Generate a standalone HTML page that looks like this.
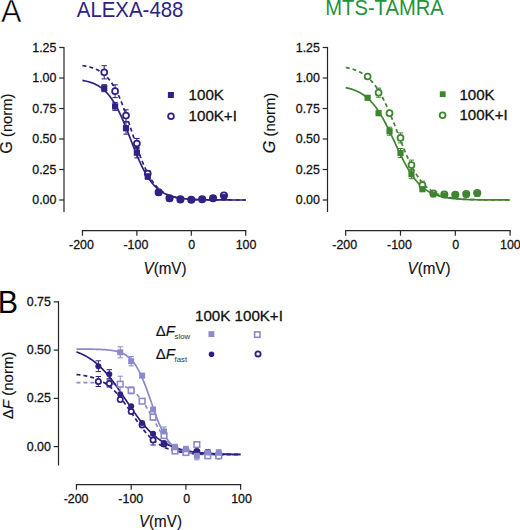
<!DOCTYPE html>
<html><head><meta charset="utf-8"><style>
html,body{margin:0;padding:0;background:#fff;width:520px;height:530px;overflow:hidden}
svg{display:block}
text{font-family:"Liberation Sans", sans-serif}
</style></head><body>
<svg width="520" height="530" viewBox="0 0 520 530">
<rect width="520" height="530" fill="#fff"/>
<text x="0.9" y="22" font-size="30.6" fill="#000" stroke="#fff" stroke-width="0.5">A</text>
<text transform="translate(-2.2,313.1) scale(0.97,1)" font-size="31.4" fill="#000">B</text>
<text transform="translate(76.80,16.80) scale(0.935,1)" font-size="21.83" fill="#2f2282">ALEXA-488</text>
<path d="M64.0,46.9V212" stroke="#262626" stroke-width="1.2" fill="none"/>
<path d="M59.2,200.00H64.0" stroke="#262626" stroke-width="1.2"/>
<text transform="translate(56.40,204.10) scale(0.935,1)" text-anchor="end" font-size="13.27" fill="#111" stroke="#111" stroke-width="0.3">0.00</text>
<path d="M59.2,169.50H64.0" stroke="#262626" stroke-width="1.2"/>
<text transform="translate(56.40,173.60) scale(0.935,1)" text-anchor="end" font-size="13.27" fill="#111" stroke="#111" stroke-width="0.3">0.25</text>
<path d="M59.2,139.00H64.0" stroke="#262626" stroke-width="1.2"/>
<text transform="translate(56.40,143.10) scale(0.935,1)" text-anchor="end" font-size="13.27" fill="#111" stroke="#111" stroke-width="0.3">0.50</text>
<path d="M59.2,108.50H64.0" stroke="#262626" stroke-width="1.2"/>
<text transform="translate(56.40,112.60) scale(0.935,1)" text-anchor="end" font-size="13.27" fill="#111" stroke="#111" stroke-width="0.3">0.75</text>
<path d="M59.2,78.00H64.0" stroke="#262626" stroke-width="1.2"/>
<text transform="translate(56.40,82.10) scale(0.935,1)" text-anchor="end" font-size="13.27" fill="#111" stroke="#111" stroke-width="0.3">1.00</text>
<path d="M59.2,47.50H64.0" stroke="#262626" stroke-width="1.2"/>
<text transform="translate(56.40,51.60) scale(0.935,1)" text-anchor="end" font-size="13.27" fill="#111" stroke="#111" stroke-width="0.3">1.25</text>
<path d="M81.86,230.5H246.32" stroke="#262626" stroke-width="1.25" fill="none"/>
<path d="M82.46,230.5V235.7" stroke="#262626" stroke-width="1.2"/>
<text transform="translate(81.46,248.50) scale(0.935,1)" text-anchor="middle" font-size="13.27" fill="#111" stroke="#111" stroke-width="0.3">-200</text>
<path d="M136.88,230.5V235.7" stroke="#262626" stroke-width="1.2"/>
<text transform="translate(135.88,248.50) scale(0.935,1)" text-anchor="middle" font-size="13.27" fill="#111" stroke="#111" stroke-width="0.3">-100</text>
<path d="M191.30,230.5V235.7" stroke="#262626" stroke-width="1.2"/>
<text transform="translate(191.60,248.50) scale(0.935,1)" text-anchor="middle" font-size="13.27" fill="#111" stroke="#111" stroke-width="0.3">0</text>
<path d="M245.72,230.5V235.7" stroke="#262626" stroke-width="1.2"/>
<text transform="translate(246.02,248.50) scale(0.935,1)" text-anchor="middle" font-size="13.27" fill="#111" stroke="#111" stroke-width="0.3">100</text>
<text transform="translate(12.10,123.60) rotate(-90) scale(1.0,1)" text-anchor="middle" font-size="14.80" fill="#111" stroke="#111" stroke-width="0.15"><tspan font-size="16.2">G</tspan> (norm)</text>
<text transform="translate(143.50,274.00) scale(0.935,1)" font-size="16.26" fill="#111" stroke="#111" stroke-width="0.15"><tspan font-style="italic">V</tspan>(mV)</text>
<path d="M82.46,80.42 L83.49,80.60 L84.51,80.80 L85.54,81.02 L86.57,81.25 L87.59,81.51 L88.62,81.78 L89.65,82.08 L90.67,82.41 L91.70,82.76 L92.73,83.15 L93.75,83.56 L94.78,84.01 L95.81,84.49 L96.84,85.02 L97.86,85.59 L98.89,86.20 L99.92,86.86 L100.94,87.57 L101.97,88.34 L103.00,89.16 L104.02,90.05 L105.05,91.00 L106.08,92.01 L107.10,93.10 L108.13,94.26 L109.16,95.50 L110.18,96.82 L111.21,98.22 L112.24,99.70 L113.26,101.27 L114.29,102.93 L115.32,104.67 L116.34,106.51 L117.37,108.43 L118.40,110.43 L119.42,112.52 L120.45,114.70 L121.48,116.94 L122.50,119.27 L123.53,121.65 L124.56,124.10 L125.59,126.61 L126.61,129.15 L127.64,131.74 L128.67,134.35 L129.69,136.98 L130.72,139.62 L131.75,142.25 L132.77,144.88 L133.80,147.48 L134.83,150.05 L135.85,152.59 L136.88,155.07 L137.91,157.50 L138.93,159.87 L139.96,162.17 L140.99,164.39 L142.01,166.54 L143.04,168.60 L144.07,170.58 L145.09,172.47 L146.12,174.28 L147.15,175.99 L148.17,177.62 L149.20,179.16 L150.23,180.62 L151.26,181.99 L152.28,183.28 L153.31,184.49 L154.34,185.63 L155.36,186.69 L156.39,187.69 L157.42,188.62 L158.44,189.48 L159.47,190.28 L160.50,191.03 L161.52,191.73 L162.55,192.37 L163.58,192.97 L164.60,193.52 L165.63,194.03 L166.66,194.51 L167.68,194.95 L168.71,195.35 L169.74,195.72 L170.76,196.07 L171.79,196.38 L172.82,196.68 L173.84,196.95 L174.87,197.19 L175.90,197.42 L176.92,197.63 L177.95,197.83 L178.98,198.00 L180.01,198.17 L181.03,198.32 L182.06,198.46 L183.09,198.58 L184.11,198.70 L185.14,198.81 L186.17,198.90 L187.19,198.99 L188.22,199.08 L189.25,199.15 L190.27,199.22 L191.30,199.29 L192.33,199.35 L193.35,199.40 L194.38,199.45 L195.41,199.50 L196.43,199.54 L197.46,199.58 L198.49,199.61 L199.51,199.64 L200.54,199.67 L201.57,199.70 L202.59,199.72 L203.62,199.75 L204.65,199.77 L205.68,199.79 L206.70,199.81 L207.73,199.82 L208.76,199.84 L209.78,199.85 L210.81,199.86 L211.84,199.87 L212.86,199.88 L213.89,199.89 L214.92,199.90 L215.94,199.91 L216.97,199.92 L218.00,199.92 L219.02,199.93 L220.05,199.94 L221.08,199.94 L222.10,199.95 L223.13,199.95 L224.16,199.96 L225.18,199.96 L226.21,199.96 L227.24,199.97 L228.26,199.97 L229.29,199.97 L230.32,199.97 L231.34,199.98 L232.37,199.98 L233.40,199.98 L234.43,199.98 L235.45,199.98 L236.48,199.98 L237.51,199.99 L238.53,199.99 L239.56,199.99 L240.59,199.99 L241.61,199.99 L242.64,199.99 L243.67,199.99 L244.69,199.99 L245.72,199.99" stroke="#2f2282" stroke-width="1.7" fill="none"/>
<path d="M82.46,65.58 L83.49,65.73 L84.51,65.90 L85.54,66.08 L86.57,66.28 L87.59,66.49 L88.62,66.73 L89.65,66.99 L90.67,67.27 L91.70,67.58 L92.73,67.91 L93.75,68.28 L94.78,68.68 L95.81,69.11 L96.84,69.58 L97.86,70.10 L98.89,70.66 L99.92,71.27 L100.94,71.93 L101.97,72.65 L103.00,73.42 L104.02,74.26 L105.05,75.17 L106.08,76.15 L107.10,77.21 L108.13,78.35 L109.16,79.58 L110.18,80.90 L111.21,82.31 L112.24,83.82 L113.26,85.43 L114.29,87.14 L115.32,88.96 L116.34,90.90 L117.37,92.94 L118.40,95.09 L119.42,97.36 L120.45,99.73 L121.48,102.21 L122.50,104.79 L123.53,107.47 L124.56,110.23 L125.59,113.08 L126.61,116.01 L127.64,119.00 L128.67,122.04 L129.69,125.12 L130.72,128.23 L131.75,131.36 L132.77,134.49 L133.80,137.61 L134.83,140.71 L135.85,143.76 L136.88,146.78 L137.91,149.73 L138.93,152.61 L139.96,155.41 L140.99,158.13 L142.01,160.75 L143.04,163.27 L144.07,165.68 L145.09,167.99 L146.12,170.19 L147.15,172.28 L148.17,174.26 L149.20,176.12 L150.23,177.88 L151.26,179.54 L152.28,181.09 L153.31,182.54 L154.34,183.89 L155.36,185.15 L156.39,186.33 L157.42,187.42 L158.44,188.43 L159.47,189.37 L160.50,190.24 L161.52,191.04 L162.55,191.78 L163.58,192.46 L164.60,193.09 L165.63,193.67 L166.66,194.21 L167.68,194.70 L168.71,195.15 L169.74,195.56 L170.76,195.94 L171.79,196.29 L172.82,196.60 L173.84,196.90 L174.87,197.16 L175.90,197.41 L176.92,197.63 L177.95,197.84 L178.98,198.02 L180.01,198.20 L181.03,198.35 L182.06,198.50 L183.09,198.63 L184.11,198.75 L185.14,198.86 L186.17,198.96 L187.19,199.05 L188.22,199.13 L189.25,199.21 L190.27,199.28 L191.30,199.34 L192.33,199.40 L193.35,199.45 L194.38,199.50 L195.41,199.54 L196.43,199.58 L197.46,199.62 L198.49,199.65 L199.51,199.68 L200.54,199.71 L201.57,199.74 L202.59,199.76 L203.62,199.78 L204.65,199.80 L205.68,199.82 L206.70,199.83 L207.73,199.85 L208.76,199.86 L209.78,199.87 L210.81,199.88 L211.84,199.89 L212.86,199.90 L213.89,199.91 L214.92,199.92 L215.94,199.93 L216.97,199.93 L218.00,199.94 L219.02,199.94 L220.05,199.95 L221.08,199.95 L222.10,199.96 L223.13,199.96 L224.16,199.97 L225.18,199.97 L226.21,199.97 L227.24,199.97 L228.26,199.98 L229.29,199.98 L230.32,199.98 L231.34,199.98 L232.37,199.98 L233.40,199.98 L234.43,199.99 L235.45,199.99 L236.48,199.99 L237.51,199.99 L238.53,199.99 L239.56,199.99 L240.59,199.99 L241.61,199.99 L242.64,199.99 L243.67,199.99 L244.69,199.99 L245.72,199.99" stroke="#2f2282" stroke-width="1.7" fill="none" stroke-dasharray="4,3"/>
<path d="M101.53,65.70H106.93M104.23,65.70V78.90M101.53,78.90H106.93" stroke="#2f2282" stroke-width="1.0" fill="none"/>
<path d="M112.41,84.80H117.81M115.11,84.80V97.60M112.41,97.60H117.81" stroke="#2f2282" stroke-width="1.0" fill="none"/>
<path d="M123.30,109.80H128.70M126.00,109.80V121.40M123.30,121.40H128.70" stroke="#2f2282" stroke-width="1.0" fill="none"/>
<path d="M134.18,138.50H139.58M136.88,138.50V148.50M134.18,148.50H139.58" stroke="#2f2282" stroke-width="1.0" fill="none"/>
<path d="M145.06,170.60H150.46M147.76,170.60V176.60M145.06,176.60H150.46" stroke="#2f2282" stroke-width="1.0" fill="none"/>
<path d="M101.53,84.70H106.93M104.23,84.70V91.70M101.53,91.70H106.93" stroke="#2f2282" stroke-width="1.0" fill="none"/>
<path d="M112.41,102.40H117.81M115.11,102.40V110.40M112.41,110.40H117.81" stroke="#2f2282" stroke-width="1.0" fill="none"/>
<path d="M123.30,122.20H128.70M126.00,122.20V134.20M123.30,134.20H128.70" stroke="#2f2282" stroke-width="1.0" fill="none"/>
<path d="M134.18,147.50H139.58M136.88,147.50V157.90M134.18,157.90H139.58" stroke="#2f2282" stroke-width="1.0" fill="none"/>
<path d="M145.06,173.30H150.46M147.76,173.30V179.30M145.06,179.30H150.46" stroke="#2f2282" stroke-width="1.0" fill="none"/>
<circle cx="104.23" cy="72.30" r="2.98" fill="#fff" stroke="#2f2282" stroke-width="1.75"/>
<circle cx="115.11" cy="91.20" r="2.98" fill="#fff" stroke="#2f2282" stroke-width="1.75"/>
<circle cx="126.00" cy="115.60" r="2.98" fill="#fff" stroke="#2f2282" stroke-width="1.75"/>
<circle cx="136.88" cy="143.50" r="2.98" fill="#fff" stroke="#2f2282" stroke-width="1.75"/>
<circle cx="147.76" cy="173.60" r="2.98" fill="#fff" stroke="#2f2282" stroke-width="1.75"/>
<rect x="101.13" y="85.10" width="6.20" height="6.20" fill="#2f2282"/>
<rect x="112.01" y="103.30" width="6.20" height="6.20" fill="#2f2282"/>
<rect x="122.90" y="125.10" width="6.20" height="6.20" fill="#2f2282"/>
<rect x="133.78" y="149.60" width="6.20" height="6.20" fill="#2f2282"/>
<rect x="144.66" y="173.20" width="6.20" height="6.20" fill="#2f2282"/>
<rect x="155.85" y="190.00" width="5.60" height="5.60" fill="#2f2282"/>
<rect x="166.73" y="195.80" width="5.60" height="5.60" fill="#2f2282"/>
<rect x="177.62" y="196.80" width="5.60" height="5.60" fill="#2f2282"/>
<rect x="188.50" y="197.20" width="5.60" height="5.60" fill="#2f2282"/>
<rect x="199.38" y="196.60" width="5.60" height="5.60" fill="#2f2282"/>
<rect x="210.27" y="195.60" width="5.60" height="5.60" fill="#2f2282"/>
<rect x="221.15" y="194.10" width="5.60" height="5.60" fill="#2f2282"/>
<circle cx="158.65" cy="192.30" r="3.1" fill="none" stroke="#2f2282" stroke-width="1.9"/>
<circle cx="169.53" cy="198.30" r="3.1" fill="none" stroke="#2f2282" stroke-width="1.9"/>
<circle cx="180.42" cy="199.40" r="3.1" fill="none" stroke="#2f2282" stroke-width="1.9"/>
<circle cx="191.30" cy="199.80" r="3.1" fill="none" stroke="#2f2282" stroke-width="1.9"/>
<circle cx="202.18" cy="199.20" r="3.1" fill="none" stroke="#2f2282" stroke-width="1.9"/>
<circle cx="213.07" cy="198.20" r="3.1" fill="none" stroke="#2f2282" stroke-width="1.9"/>
<circle cx="223.95" cy="195.50" r="3.1" fill="none" stroke="#2f2282" stroke-width="1.9"/>
<rect x="167.90" y="92.00" width="6.00" height="6.00" fill="#2f2282"/>
<circle cx="171.00" cy="116.30" r="2.90" fill="#fff" stroke="#2f2282" stroke-width="1.8"/>
<text transform="translate(188.60,100.00) scale(1.0,1)" font-size="15.10" fill="#111" stroke="#111" stroke-width="0.3">100K</text>
<text transform="translate(188.60,120.90) scale(1.0,1)" font-size="15.10" fill="#111" stroke="#111" stroke-width="0.3">100K+I</text>
<text transform="translate(325.30,15.00) scale(0.925,1)" font-size="21.83" fill="#23923c">MTS-TAMRA</text>
<path d="M327.5,46.9V212" stroke="#262626" stroke-width="1.2" fill="none"/>
<path d="M322.7,200.00H327.5" stroke="#262626" stroke-width="1.2"/>
<text transform="translate(319.90,204.10) scale(0.935,1)" text-anchor="end" font-size="13.27" fill="#111" stroke="#111" stroke-width="0.3">0.00</text>
<path d="M322.7,169.50H327.5" stroke="#262626" stroke-width="1.2"/>
<text transform="translate(319.90,173.60) scale(0.935,1)" text-anchor="end" font-size="13.27" fill="#111" stroke="#111" stroke-width="0.3">0.25</text>
<path d="M322.7,139.00H327.5" stroke="#262626" stroke-width="1.2"/>
<text transform="translate(319.90,143.10) scale(0.935,1)" text-anchor="end" font-size="13.27" fill="#111" stroke="#111" stroke-width="0.3">0.50</text>
<path d="M322.7,108.50H327.5" stroke="#262626" stroke-width="1.2"/>
<text transform="translate(319.90,112.60) scale(0.935,1)" text-anchor="end" font-size="13.27" fill="#111" stroke="#111" stroke-width="0.3">0.75</text>
<path d="M322.7,78.00H327.5" stroke="#262626" stroke-width="1.2"/>
<text transform="translate(319.90,82.10) scale(0.935,1)" text-anchor="end" font-size="13.27" fill="#111" stroke="#111" stroke-width="0.3">1.00</text>
<path d="M322.7,47.50H327.5" stroke="#262626" stroke-width="1.2"/>
<text transform="translate(319.90,51.60) scale(0.935,1)" text-anchor="end" font-size="13.27" fill="#111" stroke="#111" stroke-width="0.3">1.25</text>
<path d="M345.10,230.5H510.70" stroke="#262626" stroke-width="1.25" fill="none"/>
<path d="M345.70,230.5V235.7" stroke="#262626" stroke-width="1.2"/>
<text transform="translate(344.70,248.50) scale(0.935,1)" text-anchor="middle" font-size="13.27" fill="#111" stroke="#111" stroke-width="0.3">-200</text>
<path d="M400.50,230.5V235.7" stroke="#262626" stroke-width="1.2"/>
<text transform="translate(399.50,248.50) scale(0.935,1)" text-anchor="middle" font-size="13.27" fill="#111" stroke="#111" stroke-width="0.3">-100</text>
<path d="M455.30,230.5V235.7" stroke="#262626" stroke-width="1.2"/>
<text transform="translate(455.60,248.50) scale(0.935,1)" text-anchor="middle" font-size="13.27" fill="#111" stroke="#111" stroke-width="0.3">0</text>
<path d="M510.10,230.5V235.7" stroke="#262626" stroke-width="1.2"/>
<text transform="translate(510.40,248.50) scale(0.935,1)" text-anchor="middle" font-size="13.27" fill="#111" stroke="#111" stroke-width="0.3">100</text>
<text transform="translate(275.20,123.00) rotate(-90) scale(1.0,1)" text-anchor="middle" font-size="14.80" fill="#111" stroke="#111" stroke-width="0.15"><tspan font-size="16.2" font-style="italic">G</tspan> (norm)</text>
<text transform="translate(407.50,273.70) scale(0.935,1)" font-size="16.26" fill="#111" stroke="#111" stroke-width="0.15"><tspan font-style="italic">V</tspan>(mV)</text>
<path d="M345.70,87.63 L346.73,87.85 L347.77,88.10 L348.80,88.36 L349.84,88.64 L350.87,88.94 L351.90,89.26 L352.94,89.60 L353.97,89.98 L355.01,90.38 L356.04,90.80 L357.07,91.26 L358.11,91.75 L359.14,92.28 L360.18,92.84 L361.21,93.44 L362.24,94.08 L363.28,94.77 L364.31,95.50 L365.35,96.27 L366.38,97.10 L367.41,97.98 L368.45,98.91 L369.48,99.90 L370.52,100.95 L371.55,102.05 L372.58,103.22 L373.62,104.45 L374.65,105.75 L375.68,107.11 L376.72,108.53 L377.75,110.03 L378.79,111.58 L379.82,113.21 L380.85,114.90 L381.89,116.65 L382.92,118.46 L383.96,120.34 L384.99,122.27 L386.02,124.25 L387.06,126.28 L388.09,128.35 L389.13,130.47 L390.16,132.62 L391.19,134.79 L392.23,136.99 L393.26,139.21 L394.30,141.43 L395.33,143.66 L396.36,145.89 L397.40,148.10 L398.43,150.29 L399.47,152.47 L400.50,154.61 L401.53,156.72 L402.57,158.79 L403.60,160.81 L404.64,162.79 L405.67,164.71 L406.70,166.57 L407.74,168.38 L408.77,170.12 L409.81,171.80 L410.84,173.42 L411.87,174.96 L412.91,176.45 L413.94,177.86 L414.98,179.21 L416.01,180.50 L417.04,181.72 L418.08,182.88 L419.11,183.97 L420.15,185.01 L421.18,185.99 L422.21,186.91 L423.25,187.79 L424.28,188.60 L425.32,189.37 L426.35,190.10 L427.38,190.77 L428.42,191.41 L429.45,192.01 L430.48,192.56 L431.52,193.08 L432.55,193.57 L433.59,194.02 L434.62,194.45 L435.65,194.84 L436.69,195.21 L437.72,195.55 L438.76,195.87 L439.79,196.17 L440.82,196.44 L441.86,196.70 L442.89,196.94 L443.93,197.16 L444.96,197.37 L445.99,197.56 L447.03,197.74 L448.06,197.90 L449.10,198.06 L450.13,198.20 L451.16,198.33 L452.20,198.45 L453.23,198.57 L454.27,198.67 L455.30,198.77 L456.33,198.86 L457.37,198.94 L458.40,199.02 L459.44,199.09 L460.47,199.16 L461.50,199.22 L462.54,199.28 L463.57,199.33 L464.61,199.38 L465.64,199.43 L466.67,199.47 L467.71,199.51 L468.74,199.55 L469.78,199.58 L470.81,199.61 L471.84,199.64 L472.88,199.67 L473.91,199.69 L474.95,199.71 L475.98,199.74 L477.01,199.76 L478.05,199.77 L479.08,199.79 L480.12,199.81 L481.15,199.82 L482.18,199.83 L483.22,199.85 L484.25,199.86 L485.28,199.87 L486.32,199.88 L487.35,199.89 L488.39,199.90 L489.42,199.90 L490.45,199.91 L491.49,199.92 L492.52,199.92 L493.56,199.93 L494.59,199.93 L495.62,199.94 L496.66,199.94 L497.69,199.95 L498.73,199.95 L499.76,199.96 L500.79,199.96 L501.83,199.96 L502.86,199.96 L503.90,199.97 L504.93,199.97 L505.96,199.97 L507.00,199.97 L508.03,199.98 L509.07,199.98 L510.10,199.98" stroke="#3f8530" stroke-width="1.7" fill="none"/>
<path d="M345.70,67.46 L346.73,67.66 L347.77,67.88 L348.80,68.11 L349.84,68.36 L350.87,68.63 L351.90,68.93 L352.94,69.24 L353.97,69.58 L355.01,69.95 L356.04,70.35 L357.07,70.77 L358.11,71.23 L359.14,71.72 L360.18,72.25 L361.21,72.81 L362.24,73.42 L363.28,74.07 L364.31,74.77 L365.35,75.51 L366.38,76.31 L367.41,77.17 L368.45,78.08 L369.48,79.05 L370.52,80.08 L371.55,81.18 L372.58,82.35 L373.62,83.59 L374.65,84.90 L375.68,86.29 L376.72,87.75 L377.75,89.30 L378.79,90.92 L379.82,92.63 L380.85,94.42 L381.89,96.29 L382.92,98.24 L383.96,100.27 L384.99,102.38 L386.02,104.57 L387.06,106.83 L388.09,109.16 L389.13,111.55 L390.16,114.01 L391.19,116.51 L392.23,119.07 L393.26,121.67 L394.30,124.30 L395.33,126.95 L396.36,129.62 L397.40,132.31 L398.43,134.99 L399.47,137.66 L400.50,140.32 L401.53,142.95 L402.57,145.56 L403.60,148.12 L404.64,150.63 L405.67,153.09 L406.70,155.50 L407.74,157.84 L408.77,160.11 L409.81,162.30 L410.84,164.42 L411.87,166.47 L412.91,168.43 L413.94,170.31 L414.98,172.11 L416.01,173.83 L417.04,175.47 L418.08,177.02 L419.11,178.50 L420.15,179.90 L421.18,181.22 L422.21,182.47 L423.25,183.65 L424.28,184.76 L425.32,185.80 L426.35,186.78 L427.38,187.69 L428.42,188.56 L429.45,189.36 L430.48,190.11 L431.52,190.82 L432.55,191.48 L433.59,192.09 L434.62,192.66 L435.65,193.19 L436.69,193.69 L437.72,194.15 L438.76,194.58 L439.79,194.98 L440.82,195.35 L441.86,195.69 L442.89,196.01 L443.93,196.31 L444.96,196.58 L445.99,196.84 L447.03,197.08 L448.06,197.29 L449.10,197.50 L450.13,197.69 L451.16,197.86 L452.20,198.02 L453.23,198.17 L454.27,198.31 L455.30,198.44 L456.33,198.55 L457.37,198.66 L458.40,198.76 L459.44,198.86 L460.47,198.94 L461.50,199.02 L462.54,199.10 L463.57,199.17 L464.61,199.23 L465.64,199.29 L466.67,199.34 L467.71,199.39 L468.74,199.44 L469.78,199.48 L470.81,199.52 L471.84,199.56 L472.88,199.59 L473.91,199.62 L474.95,199.65 L475.98,199.68 L477.01,199.70 L478.05,199.73 L479.08,199.75 L480.12,199.77 L481.15,199.78 L482.18,199.80 L483.22,199.82 L484.25,199.83 L485.28,199.84 L486.32,199.85 L487.35,199.87 L488.39,199.88 L489.42,199.89 L490.45,199.89 L491.49,199.90 L492.52,199.91 L493.56,199.92 L494.59,199.92 L495.62,199.93 L496.66,199.93 L497.69,199.94 L498.73,199.94 L499.76,199.95 L500.79,199.95 L501.83,199.96 L502.86,199.96 L503.90,199.96 L504.93,199.97 L505.96,199.97 L507.00,199.97 L508.03,199.97 L509.07,199.97 L510.10,199.98" stroke="#3f8530" stroke-width="1.7" fill="none" stroke-dasharray="4,3"/>
<path d="M375.88,88.20H381.28M378.58,88.20V97.20M375.88,97.20H381.28" stroke="#3f8530" stroke-width="1.0" fill="none"/>
<path d="M397.80,132.90H403.20M400.50,132.90V142.90M397.80,142.90H403.20" stroke="#3f8530" stroke-width="1.0" fill="none"/>
<path d="M408.76,160.10H414.16M411.46,160.10V170.10M408.76,170.10H414.16" stroke="#3f8530" stroke-width="1.0" fill="none"/>
<path d="M419.72,181.20H425.12M422.42,181.20V189.20M419.72,189.20H425.12" stroke="#3f8530" stroke-width="1.0" fill="none"/>
<path d="M386.84,127.20H392.24M389.54,127.20V135.20M386.84,135.20H392.24" stroke="#3f8530" stroke-width="1.0" fill="none"/>
<path d="M397.80,148.50H403.20M400.50,148.50V157.50M397.80,157.50H403.20" stroke="#3f8530" stroke-width="1.0" fill="none"/>
<path d="M408.76,169.70H414.16M411.46,169.70V178.70M408.76,178.70H414.16" stroke="#3f8530" stroke-width="1.0" fill="none"/>
<circle cx="367.62" cy="76.50" r="2.98" fill="#fff" stroke="#3f8530" stroke-width="1.75"/>
<circle cx="378.58" cy="92.70" r="2.98" fill="#fff" stroke="#3f8530" stroke-width="1.75"/>
<circle cx="389.54" cy="113.20" r="2.98" fill="#fff" stroke="#3f8530" stroke-width="1.75"/>
<circle cx="400.50" cy="137.90" r="2.98" fill="#fff" stroke="#3f8530" stroke-width="1.75"/>
<circle cx="411.46" cy="165.10" r="2.98" fill="#fff" stroke="#3f8530" stroke-width="1.75"/>
<circle cx="422.42" cy="185.20" r="2.98" fill="#fff" stroke="#3f8530" stroke-width="1.75"/>
<rect x="364.52" y="94.70" width="6.20" height="6.20" fill="#3f8530"/>
<rect x="375.48" y="110.10" width="6.20" height="6.20" fill="#3f8530"/>
<rect x="386.44" y="128.10" width="6.20" height="6.20" fill="#3f8530"/>
<rect x="397.40" y="149.90" width="6.20" height="6.20" fill="#3f8530"/>
<rect x="408.36" y="171.10" width="6.20" height="6.20" fill="#3f8530"/>
<rect x="419.32" y="186.10" width="6.20" height="6.20" fill="#3f8530"/>
<rect x="430.58" y="191.70" width="5.60" height="5.60" fill="#3f8530"/>
<rect x="441.54" y="192.40" width="5.60" height="5.60" fill="#3f8530"/>
<rect x="452.50" y="192.40" width="5.60" height="5.60" fill="#3f8530"/>
<rect x="463.46" y="191.80" width="5.60" height="5.60" fill="#3f8530"/>
<rect x="474.42" y="191.00" width="5.60" height="5.60" fill="#3f8530"/>
<circle cx="433.38" cy="193.50" r="3.1" fill="none" stroke="#3f8530" stroke-width="1.9"/>
<circle cx="444.34" cy="194.50" r="3.1" fill="none" stroke="#3f8530" stroke-width="1.9"/>
<circle cx="455.30" cy="194.80" r="3.1" fill="none" stroke="#3f8530" stroke-width="1.9"/>
<circle cx="466.26" cy="194.00" r="3.1" fill="none" stroke="#3f8530" stroke-width="1.9"/>
<circle cx="477.22" cy="193.00" r="3.1" fill="none" stroke="#3f8530" stroke-width="1.9"/>
<rect x="439.80" y="91.30" width="5.80" height="5.80" fill="#3f8530"/>
<circle cx="442.60" cy="115.30" r="2.90" fill="#fff" stroke="#3f8530" stroke-width="1.8"/>
<text transform="translate(459.40,99.60) scale(1.0,1)" font-size="15.10" fill="#111" stroke="#111" stroke-width="0.3">100K</text>
<text transform="translate(459.40,120.40) scale(1.0,1)" font-size="15.10" fill="#111" stroke="#111" stroke-width="0.3">100K+I</text>
<path d="M58.5,301.15V465.5" stroke="#262626" stroke-width="1.2" fill="none"/>
<path d="M53.7,446.60H58.5" stroke="#262626" stroke-width="1.2"/>
<text transform="translate(50.90,450.70) scale(0.935,1)" text-anchor="end" font-size="13.27" fill="#111" stroke="#111" stroke-width="0.3">0.00</text>
<path d="M53.7,398.35H58.5" stroke="#262626" stroke-width="1.2"/>
<text transform="translate(50.90,402.45) scale(0.935,1)" text-anchor="end" font-size="13.27" fill="#111" stroke="#111" stroke-width="0.3">0.25</text>
<path d="M53.7,350.10H58.5" stroke="#262626" stroke-width="1.2"/>
<text transform="translate(50.90,354.20) scale(0.935,1)" text-anchor="end" font-size="13.27" fill="#111" stroke="#111" stroke-width="0.3">0.50</text>
<path d="M53.7,301.85H58.5" stroke="#262626" stroke-width="1.2"/>
<text transform="translate(50.90,305.95) scale(0.935,1)" text-anchor="end" font-size="13.27" fill="#111" stroke="#111" stroke-width="0.3">0.75</text>
<path d="M75.86,484.5H241.22" stroke="#262626" stroke-width="1.25" fill="none"/>
<path d="M76.46,484.5V489.7" stroke="#262626" stroke-width="1.2"/>
<text transform="translate(76.06,502.50) scale(0.935,1)" text-anchor="middle" font-size="13.27" fill="#111" stroke="#111" stroke-width="0.3">-200</text>
<path d="M131.18,484.5V489.7" stroke="#262626" stroke-width="1.2"/>
<text transform="translate(130.78,502.50) scale(0.935,1)" text-anchor="middle" font-size="13.27" fill="#111" stroke="#111" stroke-width="0.3">-100</text>
<path d="M185.90,484.5V489.7" stroke="#262626" stroke-width="1.2"/>
<text transform="translate(186.80,502.50) scale(0.935,1)" text-anchor="middle" font-size="13.27" fill="#111" stroke="#111" stroke-width="0.3">0</text>
<path d="M240.62,484.5V489.7" stroke="#262626" stroke-width="1.2"/>
<text transform="translate(241.52,502.50) scale(0.935,1)" text-anchor="middle" font-size="13.27" fill="#111" stroke="#111" stroke-width="0.3">100</text>
<text transform="translate(12.60,385.40) rotate(-90) scale(1.0,1)" text-anchor="middle" font-size="15.00" fill="#111" stroke="#111" stroke-width="0.15">&#916;<tspan font-style="italic">F</tspan> (norm)</text>
<text transform="translate(138.90,527.30) scale(0.935,1)" font-size="16.26" fill="#111" stroke="#111" stroke-width="0.15"><tspan font-style="italic">V</tspan>(mV)</text>
<path d="M76.46,349.07 L77.49,349.07 L78.52,349.07 L79.56,349.08 L80.59,349.08 L81.62,349.09 L82.65,349.10 L83.69,349.10 L84.72,349.11 L85.75,349.12 L86.78,349.13 L87.82,349.14 L88.85,349.15 L89.88,349.16 L90.91,349.18 L91.95,349.20 L92.98,349.22 L94.01,349.24 L95.04,349.26 L96.08,349.29 L97.11,349.32 L98.14,349.35 L99.17,349.39 L100.21,349.43 L101.24,349.48 L102.27,349.53 L103.30,349.59 L104.34,349.65 L105.37,349.72 L106.40,349.81 L107.43,349.90 L108.47,350.00 L109.50,350.11 L110.53,350.24 L111.56,350.38 L112.60,350.54 L113.63,350.72 L114.66,350.92 L115.69,351.14 L116.73,351.39 L117.76,351.66 L118.79,351.97 L119.82,352.31 L120.86,352.69 L121.89,353.11 L122.92,353.58 L123.95,354.10 L124.99,354.68 L126.02,355.32 L127.05,356.02 L128.08,356.80 L129.12,357.65 L130.15,358.60 L131.18,359.63 L132.21,360.76 L133.24,362.00 L134.28,363.34 L135.31,364.80 L136.34,366.39 L137.37,368.10 L138.41,369.93 L139.44,371.90 L140.47,374.00 L141.50,376.23 L142.54,378.58 L143.57,381.05 L144.60,383.64 L145.63,386.33 L146.67,389.11 L147.70,391.97 L148.73,394.89 L149.76,397.85 L150.80,400.84 L151.83,403.84 L152.86,406.82 L153.89,409.77 L154.93,412.67 L155.96,415.51 L156.99,418.26 L158.02,420.92 L159.06,423.47 L160.09,425.91 L161.12,428.22 L162.15,430.41 L163.19,432.47 L164.22,434.39 L165.25,436.19 L166.28,437.85 L167.32,439.40 L168.35,440.82 L169.38,442.13 L170.41,443.34 L171.45,444.44 L172.48,445.44 L173.51,446.35 L174.54,447.18 L175.58,447.94 L176.61,448.62 L177.64,449.24 L178.67,449.79 L179.71,450.30 L180.74,450.75 L181.77,451.16 L182.80,451.53 L183.84,451.86 L184.87,452.15 L185.90,452.42 L186.93,452.66 L187.96,452.87 L189.00,453.06 L190.03,453.23 L191.06,453.39 L192.09,453.53 L193.13,453.65 L194.16,453.76 L195.19,453.86 L196.22,453.95 L197.26,454.03 L198.29,454.10 L199.32,454.16 L200.35,454.22 L201.39,454.27 L202.42,454.31 L203.45,454.35 L204.48,454.39 L205.52,454.42 L206.55,454.45 L207.58,454.47 L208.61,454.50 L209.65,454.52 L210.68,454.53 L211.71,454.55 L212.74,454.57 L213.78,454.58 L214.81,454.59 L215.84,454.60 L216.87,454.61 L217.91,454.62 L218.94,454.63 L219.97,454.63 L221.00,454.64 L222.04,454.64 L223.07,454.65 L224.10,454.65 L225.13,454.66 L226.17,454.66 L227.20,454.66 L228.23,454.66 L229.26,454.67 L230.30,454.67 L231.33,454.67 L232.36,454.67 L233.39,454.67 L234.43,454.68 L235.46,454.68 L236.49,454.68 L237.52,454.68 L238.56,454.68 L239.59,454.68 L240.62,454.68" stroke="#8c8acb" stroke-width="1.7" fill="none"/>
<path d="M76.46,382.58 L77.49,382.58 L78.52,382.58 L79.56,382.59 L80.59,382.59 L81.62,382.60 L82.65,382.61 L83.69,382.61 L84.72,382.62 L85.75,382.63 L86.78,382.64 L87.82,382.65 L88.85,382.66 L89.88,382.67 L90.91,382.68 L91.95,382.70 L92.98,382.72 L94.01,382.74 L95.04,382.76 L96.08,382.78 L97.11,382.81 L98.14,382.83 L99.17,382.87 L100.21,382.90 L101.24,382.94 L102.27,382.98 L103.30,383.03 L104.34,383.08 L105.37,383.14 L106.40,383.21 L107.43,383.28 L108.47,383.36 L109.50,383.44 L110.53,383.54 L111.56,383.65 L112.60,383.77 L113.63,383.90 L114.66,384.04 L115.69,384.20 L116.73,384.38 L117.76,384.57 L118.79,384.79 L119.82,385.02 L120.86,385.28 L121.89,385.57 L122.92,385.89 L123.95,386.23 L124.99,386.61 L126.02,387.03 L127.05,387.48 L128.08,387.98 L129.12,388.53 L130.15,389.12 L131.18,389.77 L132.21,390.47 L133.24,391.23 L134.28,392.05 L135.31,392.94 L136.34,393.90 L137.37,394.92 L138.41,396.02 L139.44,397.20 L140.47,398.44 L141.50,399.77 L142.54,401.16 L143.57,402.63 L144.60,404.17 L145.63,405.77 L146.67,407.43 L147.70,409.15 L148.73,410.92 L149.76,412.72 L150.80,414.56 L151.83,416.42 L152.86,418.29 L153.89,420.16 L154.93,422.03 L155.96,423.87 L156.99,425.70 L158.02,427.48 L159.06,429.22 L160.09,430.91 L161.12,432.54 L162.15,434.11 L163.19,435.62 L164.22,437.05 L165.25,438.40 L166.28,439.69 L167.32,440.90 L168.35,442.03 L169.38,443.09 L170.41,444.08 L171.45,445.01 L172.48,445.86 L173.51,446.65 L174.54,447.38 L175.58,448.05 L176.61,448.67 L177.64,449.24 L178.67,449.76 L179.71,450.24 L180.74,450.67 L181.77,451.07 L182.80,451.43 L183.84,451.76 L184.87,452.06 L185.90,452.33 L186.93,452.58 L187.96,452.81 L189.00,453.01 L190.03,453.20 L191.06,453.36 L192.09,453.52 L193.13,453.65 L194.16,453.78 L195.19,453.89 L196.22,453.99 L197.26,454.08 L198.29,454.17 L199.32,454.24 L200.35,454.31 L201.39,454.37 L202.42,454.43 L203.45,454.48 L204.48,454.52 L205.52,454.56 L206.55,454.60 L207.58,454.63 L208.61,454.66 L209.65,454.69 L210.68,454.71 L211.71,454.74 L212.74,454.76 L213.78,454.77 L214.81,454.79 L215.84,454.80 L216.87,454.82 L217.91,454.83 L218.94,454.84 L219.97,454.85 L221.00,454.86 L222.04,454.87 L223.07,454.87 L224.10,454.88 L225.13,454.88 L226.17,454.89 L227.20,454.89 L228.23,454.90 L229.26,454.90 L230.30,454.91 L231.33,454.91 L232.36,454.91 L233.39,454.91 L234.43,454.92 L235.46,454.92 L236.49,454.92 L237.52,454.92 L238.56,454.92 L239.59,454.93 L240.62,454.93" stroke="#8c8acb" stroke-width="1.7" fill="none" stroke-dasharray="4,3"/>
<path d="M76.46,351.91 L77.49,352.29 L78.52,352.69 L79.56,353.10 L80.59,353.54 L81.62,353.99 L82.65,354.47 L83.69,354.98 L84.72,355.50 L85.75,356.05 L86.78,356.63 L87.82,357.23 L88.85,357.86 L89.88,358.52 L90.91,359.20 L91.95,359.91 L92.98,360.66 L94.01,361.43 L95.04,362.24 L96.08,363.08 L97.11,363.95 L98.14,364.85 L99.17,365.78 L100.21,366.75 L101.24,367.75 L102.27,368.79 L103.30,369.86 L104.34,370.96 L105.37,372.10 L106.40,373.26 L107.43,374.46 L108.47,375.70 L109.50,376.96 L110.53,378.25 L111.56,379.58 L112.60,380.93 L113.63,382.30 L114.66,383.70 L115.69,385.13 L116.73,386.57 L117.76,388.04 L118.79,389.52 L119.82,391.02 L120.86,392.54 L121.89,394.06 L122.92,395.60 L123.95,397.14 L124.99,398.68 L126.02,400.23 L127.05,401.77 L128.08,403.31 L129.12,404.85 L130.15,406.38 L131.18,407.90 L132.21,409.40 L133.24,410.89 L134.28,412.37 L135.31,413.82 L136.34,415.26 L137.37,416.67 L138.41,418.05 L139.44,419.42 L140.47,420.75 L141.50,422.05 L142.54,423.33 L143.57,424.58 L144.60,425.79 L145.63,426.97 L146.67,428.12 L147.70,429.24 L148.73,430.32 L149.76,431.37 L150.80,432.39 L151.83,433.37 L152.86,434.32 L153.89,435.24 L154.93,436.12 L155.96,436.97 L156.99,437.79 L158.02,438.58 L159.06,439.33 L160.09,440.06 L161.12,440.76 L162.15,441.42 L163.19,442.07 L164.22,442.68 L165.25,443.26 L166.28,443.83 L167.32,444.36 L168.35,444.87 L169.38,445.36 L170.41,445.83 L171.45,446.27 L172.48,446.70 L173.51,447.10 L174.54,447.49 L175.58,447.85 L176.61,448.20 L177.64,448.53 L178.67,448.85 L179.71,449.15 L180.74,449.44 L181.77,449.71 L182.80,449.96 L183.84,450.21 L184.87,450.44 L185.90,450.66 L186.93,450.87 L187.96,451.07 L189.00,451.26 L190.03,451.44 L191.06,451.60 L192.09,451.77 L193.13,451.92 L194.16,452.06 L195.19,452.20 L196.22,452.33 L197.26,452.45 L198.29,452.57 L199.32,452.68 L200.35,452.78 L201.39,452.88 L202.42,452.97 L203.45,453.06 L204.48,453.15 L205.52,453.22 L206.55,453.30 L207.58,453.37 L208.61,453.44 L209.65,453.50 L210.68,453.56 L211.71,453.62 L212.74,453.67 L213.78,453.72 L214.81,453.77 L215.84,453.82 L216.87,453.86 L217.91,453.90 L218.94,453.94 L219.97,453.98 L221.00,454.01 L222.04,454.04 L223.07,454.07 L224.10,454.10 L225.13,454.13 L226.17,454.16 L227.20,454.18 L228.23,454.21 L229.26,454.23 L230.30,454.25 L231.33,454.27 L232.36,454.29 L233.39,454.30 L234.43,454.32 L235.46,454.34 L236.49,454.35 L237.52,454.37 L238.56,454.38 L239.59,454.39 L240.62,454.40" stroke="#2d2080" stroke-width="1.7" fill="none"/>
<path d="M76.46,374.54 L77.49,374.65 L78.52,374.77 L79.56,374.89 L80.59,375.03 L81.62,375.17 L82.65,375.33 L83.69,375.50 L84.72,375.67 L85.75,375.87 L86.78,376.07 L87.82,376.30 L88.85,376.53 L89.88,376.79 L90.91,377.06 L91.95,377.35 L92.98,377.66 L94.01,377.99 L95.04,378.35 L96.08,378.72 L97.11,379.13 L98.14,379.56 L99.17,380.02 L100.21,380.50 L101.24,381.02 L102.27,381.57 L103.30,382.16 L104.34,382.77 L105.37,383.43 L106.40,384.12 L107.43,384.85 L108.47,385.62 L109.50,386.44 L110.53,387.29 L111.56,388.19 L112.60,389.13 L113.63,390.11 L114.66,391.14 L115.69,392.21 L116.73,393.32 L117.76,394.48 L118.79,395.67 L119.82,396.91 L120.86,398.19 L121.89,399.51 L122.92,400.85 L123.95,402.24 L124.99,403.65 L126.02,405.09 L127.05,406.55 L128.08,408.03 L129.12,409.52 L130.15,411.03 L131.18,412.55 L132.21,414.07 L133.24,415.58 L134.28,417.10 L135.31,418.60 L136.34,420.09 L137.37,421.57 L138.41,423.02 L139.44,424.45 L140.47,425.85 L141.50,427.22 L142.54,428.55 L143.57,429.85 L144.60,431.11 L145.63,432.34 L146.67,433.52 L147.70,434.66 L148.73,435.76 L149.76,436.81 L150.80,437.82 L151.83,438.79 L152.86,439.71 L153.89,440.59 L154.93,441.43 L155.96,442.22 L156.99,442.98 L158.02,443.69 L159.06,444.37 L160.09,445.01 L161.12,445.62 L162.15,446.19 L163.19,446.72 L164.22,447.23 L165.25,447.71 L166.28,448.15 L167.32,448.57 L168.35,448.97 L169.38,449.34 L170.41,449.68 L171.45,450.01 L172.48,450.31 L173.51,450.59 L174.54,450.86 L175.58,451.10 L176.61,451.33 L177.64,451.55 L178.67,451.75 L179.71,451.94 L180.74,452.11 L181.77,452.28 L182.80,452.43 L183.84,452.57 L184.87,452.70 L185.90,452.82 L186.93,452.94 L187.96,453.04 L189.00,453.14 L190.03,453.23 L191.06,453.32 L192.09,453.40 L193.13,453.47 L194.16,453.54 L195.19,453.60 L196.22,453.66 L197.26,453.72 L198.29,453.77 L199.32,453.82 L200.35,453.86 L201.39,453.90 L202.42,453.94 L203.45,453.98 L204.48,454.01 L205.52,454.04 L206.55,454.07 L207.58,454.09 L208.61,454.12 L209.65,454.14 L210.68,454.16 L211.71,454.18 L212.74,454.20 L213.78,454.22 L214.81,454.23 L215.84,454.25 L216.87,454.26 L217.91,454.27 L218.94,454.29 L219.97,454.30 L221.00,454.31 L222.04,454.32 L223.07,454.32 L224.10,454.33 L225.13,454.34 L226.17,454.35 L227.20,454.35 L228.23,454.36 L229.26,454.36 L230.30,454.37 L231.33,454.37 L232.36,454.38 L233.39,454.38 L234.43,454.39 L235.46,454.39 L236.49,454.39 L237.52,454.40 L238.56,454.40 L239.59,454.40 L240.62,454.40" stroke="#2d2080" stroke-width="1.7" fill="none" stroke-dasharray="4,3"/>
<path d="M117.54,346.80H122.94M120.24,346.80V357.80M117.54,357.80H122.94" stroke="#8c8acb" stroke-width="1.0" fill="none"/>
<path d="M128.48,356.50H133.88M131.18,356.50V365.90M128.48,365.90H133.88" stroke="#8c8acb" stroke-width="1.0" fill="none"/>
<path d="M161.31,427.00H166.71M164.01,427.00V436.00M161.31,436.00H166.71" stroke="#8c8acb" stroke-width="1.0" fill="none"/>
<path d="M172.26,444.30H177.66M174.96,444.30V450.30M172.26,450.30H177.66" stroke="#8c8acb" stroke-width="1.0" fill="none"/>
<path d="M183.20,446.30H188.60M185.90,446.30V452.30M183.20,452.30H188.60" stroke="#8c8acb" stroke-width="1.0" fill="none"/>
<path d="M194.14,451.80H199.54M196.84,451.80V459.80M194.14,459.80H199.54" stroke="#8c8acb" stroke-width="1.0" fill="none"/>
<path d="M205.09,449.50H210.49M207.79,449.50V455.50M205.09,455.50H210.49" stroke="#8c8acb" stroke-width="1.0" fill="none"/>
<path d="M216.03,449.80H221.43M218.73,449.80V455.80M216.03,455.80H221.43" stroke="#8c8acb" stroke-width="1.0" fill="none"/>
<path d="M117.54,376.20H122.94M120.24,376.20V392.20M117.54,392.20H122.94" stroke="#8c8acb" stroke-width="1.0" fill="none"/>
<path d="M128.48,386.90H133.88M131.18,386.90V393.90M128.48,393.90H133.88" stroke="#8c8acb" stroke-width="1.0" fill="none"/>
<path d="M150.37,414.10H155.77M153.07,414.10V420.10M150.37,420.10H155.77" stroke="#8c8acb" stroke-width="1.0" fill="none"/>
<path d="M95.65,360.80H101.05M98.35,360.80V371.60M95.65,371.60H101.05" stroke="#2d2080" stroke-width="1.0" fill="none"/>
<path d="M106.59,369.70H111.99M109.29,369.70V378.70M106.59,378.70H111.99" stroke="#2d2080" stroke-width="1.0" fill="none"/>
<path d="M95.65,376.50H101.05M98.35,376.50V386.50M95.65,386.50H101.05" stroke="#2d2080" stroke-width="1.0" fill="none"/>
<path d="M106.59,380.00H111.99M109.29,380.00V387.00M106.59,387.00H111.99" stroke="#2d2080" stroke-width="1.0" fill="none"/>
<path d="M150.37,435.00H155.77M153.07,435.00V445.00M150.37,445.00H155.77" stroke="#2d2080" stroke-width="1.0" fill="none"/>
<circle cx="98.35" cy="381.50" r="2.65" fill="#fff" stroke="#2d2080" stroke-width="1.7"/>
<circle cx="109.29" cy="383.50" r="2.65" fill="#fff" stroke="#2d2080" stroke-width="1.7"/>
<circle cx="120.24" cy="399.60" r="2.65" fill="#fff" stroke="#2d2080" stroke-width="1.7"/>
<circle cx="131.18" cy="411.50" r="2.65" fill="#fff" stroke="#2d2080" stroke-width="1.7"/>
<circle cx="142.12" cy="425.00" r="2.65" fill="#fff" stroke="#2d2080" stroke-width="1.7"/>
<circle cx="153.07" cy="440.00" r="2.65" fill="#fff" stroke="#2d2080" stroke-width="1.7"/>
<circle cx="164.01" cy="444.00" r="2.65" fill="#fff" stroke="#2d2080" stroke-width="1.7"/>
<circle cx="174.96" cy="449.00" r="2.65" fill="#fff" stroke="#2d2080" stroke-width="1.7"/>
<circle cx="185.90" cy="450.40" r="2.65" fill="#fff" stroke="#2d2080" stroke-width="1.7"/>
<circle cx="196.84" cy="451.50" r="2.65" fill="#fff" stroke="#2d2080" stroke-width="1.7"/>
<circle cx="207.79" cy="452.50" r="2.65" fill="#fff" stroke="#2d2080" stroke-width="1.7"/>
<circle cx="218.73" cy="455.50" r="2.65" fill="#fff" stroke="#2d2080" stroke-width="1.7"/>
<circle cx="98.35" cy="366.20" r="3.00" fill="#2d2080"/>
<circle cx="109.29" cy="374.20" r="3.00" fill="#2d2080"/>
<circle cx="120.24" cy="394.60" r="3.00" fill="#2d2080"/>
<circle cx="131.18" cy="406.20" r="3.00" fill="#2d2080"/>
<circle cx="142.12" cy="423.10" r="3.00" fill="#2d2080"/>
<circle cx="153.07" cy="433.70" r="3.00" fill="#2d2080"/>
<circle cx="164.01" cy="443.10" r="3.00" fill="#2d2080"/>
<circle cx="174.96" cy="449.00" r="3.00" fill="#2d2080"/>
<circle cx="185.90" cy="450.40" r="3.00" fill="#2d2080"/>
<circle cx="196.84" cy="451.50" r="3.00" fill="#2d2080"/>
<circle cx="207.79" cy="452.50" r="3.00" fill="#2d2080"/>
<circle cx="218.73" cy="456.50" r="3.00" fill="#2d2080"/>
<rect x="117.44" y="381.40" width="5.60" height="5.60" fill="#fff" stroke="#8c8acb" stroke-width="1.6"/>
<rect x="128.38" y="387.60" width="5.60" height="5.60" fill="#fff" stroke="#8c8acb" stroke-width="1.6"/>
<rect x="139.32" y="398.40" width="5.60" height="5.60" fill="#fff" stroke="#8c8acb" stroke-width="1.6"/>
<rect x="150.27" y="414.30" width="5.60" height="5.60" fill="#fff" stroke="#8c8acb" stroke-width="1.6"/>
<rect x="161.21" y="432.70" width="5.60" height="5.60" fill="#fff" stroke="#8c8acb" stroke-width="1.6"/>
<rect x="172.16" y="448.20" width="5.60" height="5.60" fill="#fff" stroke="#8c8acb" stroke-width="1.6"/>
<rect x="183.10" y="449.70" width="5.60" height="5.60" fill="#fff" stroke="#8c8acb" stroke-width="1.6"/>
<rect x="194.04" y="441.80" width="5.60" height="5.60" fill="#fff" stroke="#8c8acb" stroke-width="1.6"/>
<rect x="204.99" y="453.00" width="5.60" height="5.60" fill="#fff" stroke="#8c8acb" stroke-width="1.6"/>
<rect x="215.93" y="453.00" width="5.60" height="5.60" fill="#fff" stroke="#8c8acb" stroke-width="1.6"/>
<rect x="117.24" y="349.30" width="6.00" height="6.00" fill="#8c8acb"/>
<rect x="128.18" y="358.20" width="6.00" height="6.00" fill="#8c8acb"/>
<rect x="139.12" y="372.60" width="6.00" height="6.00" fill="#8c8acb"/>
<rect x="150.07" y="406.50" width="6.00" height="6.00" fill="#8c8acb"/>
<rect x="161.01" y="428.50" width="6.00" height="6.00" fill="#8c8acb"/>
<rect x="171.96" y="444.30" width="6.00" height="6.00" fill="#8c8acb"/>
<rect x="182.90" y="446.30" width="6.00" height="6.00" fill="#8c8acb"/>
<rect x="193.84" y="452.80" width="6.00" height="6.00" fill="#8c8acb"/>
<rect x="204.79" y="449.50" width="6.00" height="6.00" fill="#8c8acb"/>
<rect x="215.73" y="449.80" width="6.00" height="6.00" fill="#8c8acb"/>
<text transform="translate(195.00,321.20) scale(1.0,1)" font-size="15.10" fill="#111" stroke="#111" stroke-width="0.3">100K</text>
<text transform="translate(234.60,321.20) scale(1.0,1)" font-size="15.10" fill="#111" stroke="#111" stroke-width="0.3">100K+I</text>
<text transform="translate(155.80,335.80) scale(1.0,1)" font-size="15.00" fill="#111" stroke="#111" stroke-width="0.15">&#916;<tspan font-style="italic">F</tspan></text>
<text transform="translate(174.60,339.20) scale(1.0,1)" font-size="7.80" fill="#333">slow</text>
<text transform="translate(155.80,358.80) scale(1.0,1)" font-size="15.00" fill="#111" stroke="#111" stroke-width="0.15">&#916;<tspan font-style="italic">F</tspan></text>
<text transform="translate(174.60,362.20) scale(1.0,1)" font-size="7.80" fill="#333">fast</text>
<rect x="208.50" y="331.20" width="5.80" height="5.80" fill="#8c8acb"/>
<rect x="254.60" y="331.90" width="5.40" height="5.40" fill="#fff" stroke="#8c8acb" stroke-width="1.6"/>
<circle cx="211.50" cy="354.20" r="2.80" fill="#2d2080"/>
<circle cx="258.00" cy="353.90" r="2.60" fill="#fff" stroke="#2d2080" stroke-width="1.8"/>
</svg></body></html>
